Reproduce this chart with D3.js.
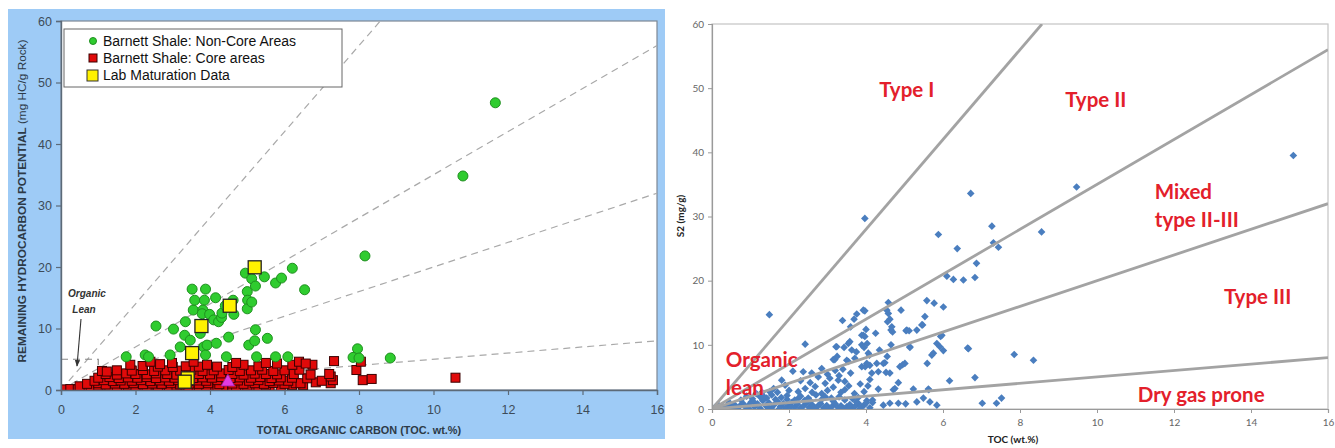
<!DOCTYPE html>
<html>
<head>
<meta charset="utf-8">
<script src="https://cdn.jsdelivr.net/npm/d3@7"></script>
<style>
  body { margin: 0; background: #fff; }
  svg { display: block; }
</style>
</head>
<body>
<div id="chart"></div>
<script>
// ---- data ----
var xTicks = [0, 2, 4, 6, 8, 10, 12, 14, 16];
var yTicks = [0, 10, 20, 30, 40, 50, 60];
// HI boundary lines (mg HC / g TOC / 100)
var kerogenSlopes = [7, 3.5, 2, 0.5];

var legendLabels = ["Barnett Shale: Non-Core Areas", "Barnett Shale: Core areas", "Lab Maturation Data"];

var nonCoreAreas = [
  [1.75,5.4],[2.26,5.7],[2.35,5.4],[2.55,10.4],[2.93,5.7],[3.02,9.9],[3.2,7.0],[3.32,8.9],[3.34,11.1],
  [3.47,8.1],[3.52,16.4],[3.55,13.0],[3.59,14.6],[3.85,14.6],[3.88,16.4],[3.81,13.0],[3.79,12.4],
  [3.74,9.2],[3.83,7.0],[3.88,5.7],[3.92,7.3],[3.99,12.3],[4.15,15.0],[4.17,7.6],[4.1,11.4],[4.23,11.1],
  [4.31,11.8],[4.32,12.5],[4.41,13.7],[4.44,5.4],[4.5,8.6],[4.62,14.6],[4.64,12.3],[4.95,19.0],[5.0,16.0],
  [5.01,14.6],[5.0,13.2],[5.04,7.3],[5.12,18.1],[5.12,14.3],[5.22,16.9],[5.25,5.4],[5.22,9.8],[5.2,8.0],
  [5.46,18.4],[5.54,8.4],[5.76,17.4],[5.92,18.2],[5.76,5.4],[6.09,5.4],[6.21,19.8],[6.54,16.3],
  [11.66,46.7],[10.79,34.8],[8.16,21.8],[7.96,6.7],[7.84,5.3],[8.0,5.2],[8.84,5.2]
];

var coreAreas = [
  [0.05,0.1],[0.25,0.15],[0.45,0.1],[0.65,0.2],[0.85,0.1],[1.1,0.15],[1.35,0.1],[1.6,0.2],[1.85,0.1],
  [2.1,0.15],[2.35,0.1],[2.6,0.2],[2.85,0.1],[3.1,0.15],[3.35,0.1],[3.6,0.2],[3.85,0.1],[4.1,0.15],
  [4.35,0.3],[4.6,0.2],[4.85,0.3],[5.1,0.4],[5.35,0.3],[5.6,0.35],
  [0.5,0.6],[0.8,0.5],[1.0,0.7],[1.3,0.6],[1.5,0.5],[1.8,0.7],[2.0,0.55],[2.3,0.65],[2.6,0.5],[2.9,0.6],
  [3.1,0.7],[3.4,0.55],[3.7,0.6],[3.9,0.5],[4.2,0.65],[4.7,0.6],[5.0,0.7],[5.3,0.6],[5.5,0.75],[5.9,0.6],
  [6.2,0.8],[6.5,0.8],
  [0.7,1.0],[1.0,1.1],[1.2,0.9],[1.45,1.05],[1.7,1.0],[1.95,1.1],[2.2,0.95],[2.45,1.05],[2.7,1.0],
  [2.95,1.1],[3.2,0.9],[3.45,1.05],[3.7,1.0],[3.95,1.1],[4.25,0.95],[4.6,1.05],[4.9,1.0],[5.2,1.1],
  [5.45,1.0],[5.7,1.15],[6.0,1.0],[6.3,1.1],[6.84,1.25],[7.24,1.1],
  [0.9,1.5],[1.15,1.6],[1.4,1.45],[1.6,1.55],[1.9,1.5],[2.15,1.6],[2.4,1.45],[2.65,1.55],[2.9,1.5],
  [3.15,1.6],[3.4,1.45],[3.65,1.55],[3.9,1.5],[4.2,1.6],[4.45,1.45],[4.75,1.55],[5.05,1.5],[5.3,1.6],
  [5.6,1.45],[5.85,1.55],[6.1,1.5],[6.43,1.1],[6.61,1.9],[7.0,1.5],[7.3,1.6],[8.1,1.6],[8.34,1.8],
  [1.0,2.0],[1.3,2.1],[1.55,1.95],[1.8,2.05],[2.05,2.0],[2.3,2.1],[2.55,1.95],[2.8,2.05],[3.05,2.0],
  [3.3,2.1],[3.55,1.95],[3.8,2.05],[4.05,2.0],[4.3,2.1],[4.55,1.95],[4.8,2.05],[5.1,2.0],[5.35,2.1],
  [5.65,1.95],[5.9,2.05],[6.2,2.0],[7.24,2.2],[10.59,2.0],
  [1.2,2.6],[1.5,2.5],[1.75,2.7],[2.0,2.6],[2.3,2.55],[2.55,2.7],[2.85,2.6],[3.1,2.5],[3.4,2.65],
  [3.7,2.6],[4.0,2.55],[4.3,2.7],[4.6,2.6],[4.9,2.5],[5.2,2.65],[5.5,2.6],[5.8,2.55],[6.25,2.6],
  [6.7,2.5],[7.2,2.6],
  [1.1,3.1],[1.5,3.2],[1.9,3.15],[2.2,3.25],[2.5,3.1],[2.8,3.2],[3.2,3.15],[3.5,3.3],[3.8,3.1],[4.1,3.2],
  [4.5,3.25],[4.8,3.1],[5.1,3.2],[5.4,3.3],[5.7,3.1],[6.0,3.2],[6.4,3.3],[7.93,3.25],
  [1.23,3.0],[1.86,4.1],[2.19,3.9],[2.6,3.8],[3.0,3.75],[3.35,3.85],[3.7,3.8],[4.19,3.8],[4.6,3.75],
  [4.9,4.1],[5.3,3.85],[5.8,4.3],[6.21,4.1],[6.75,4.1],
  [2.4,4.6],[2.66,4.2],[2.98,4.4],[3.56,4.6],[3.92,4.1],[4.7,4.4],[5.5,4.4],[6.39,4.6],[6.57,4.3],
  [7.33,4.7],[8.05,4.6]
];

var labMaturation = [[5.2,19.95],[4.53,13.7],[3.77,10.4],[3.52,6.0],[3.4,1.9],[3.32,1.35]];
var highlightSample = [[4.48,1.46]];

var regionLabels = ["Type I", "Type II", "Mixed", "type II-III", "Type III", "Dry gas prone", "Organic", "lean"];

var s2Samples = [
  [15.1,39.5],[9.47,34.6],[6.72,33.6],[3.97,29.7],[7.27,28.5],[5.88,27.2],[8.56,27.6],[7.31,25.9],[7.44,25.2],
  [6.37,25.0],[6.87,22.7],[6.27,20.2],[6.1,20.7],[6.53,20.1],[6.83,20.5],
  [5.58,16.9],[5.77,16.5],[6.01,15.9],[5.53,14.4],[5.47,13.1],[4.91,15.4],[4.58,16.6],[4.54,15.4],
  [4.58,14.9],[4.62,14.0],[4.56,13.6],[4.67,12.8],[4.69,12.0],[5.04,12.2],[5.12,12.2],[3.93,15.4],
  [3.76,14.8],[3.69,14.0],[3.39,13.8],[3.93,11.5],[5.97,11.5],[1.49,14.7],[2.42,10.1],[3.22,9.7],
  [3.97,15.3],[3.58,10.5],[3.89,11.5],[4.03,10.2],[4.09,8.4],[3.43,9.6],[3.15,7.7],[3.5,7.6],[3.71,7.9],
  [3.89,6.6],[3.98,6.6],[4.1,6.8],[4.32,5.8],[4.49,7.2],[4.62,5.6],[4.71,3.0],[4.88,6.6],[5.01,7.1],
  [4.84,4.1],[5.14,9.7],[5.32,12.3],[5.45,13.1],[5.94,11.3],[5.84,10.2],[6.01,9.1],[5.59,7.1],[5.75,8.7],
  [5.63,3.0],[5.32,1.1],[5.49,1.7],[5.66,1.1],[5.84,0.6],[4.62,0.9],[4.45,0.6],[4.84,0.9],[4.17,1.0],
  [6.17,4.4],[6.64,9.5],[6.83,4.9],[7.02,0.9],[7.39,0.9],[7.52,1.7],[6.66,9.4],[7.85,8.5],[8.35,7.6],
  [3.97,11.3],[3.89,10.0],[3.24,9.7],[3.54,10.2],[3.63,9.2],[3.19,7.7],[3.54,7.4],[4.06,8.7],[4.02,7.1],
  [4.15,5.6],[4.28,7.1],[4.45,7.1],[4.52,5.7],[4.65,10.0],[4.65,12.3],[5.06,12.3],[4.95,6.9],[5.14,9.6],
  [4.75,3.2],[4.32,3.1],[4.17,1.4],[5.03,0.8],[5.23,3.1],[5.71,8.4],[5.92,9.7],[5.62,3.1],
  [3.45,3.0],[3.28,4.5],[3.45,4.3],[3.3,5.2],
  [2.37,5.8],[2.59,5.6],[2.76,5.0],[1.81,4.5],[1.9,3.7],[1.55,2.2],[2.24,2.7],[2.42,3.2],[2.68,3.5],
  [2.94,4.0],[3.06,4.8],[2.85,2.4],[2.5,1.7],[2.94,1.9],[1.95,1.5],[1.42,1.7],[1.25,1.9],[1.1,1.0],
  [2.1,5.9],[2.3,4.4],[2.55,4.1],[2.0,2.9],[1.7,2.6],[2.7,2.2],[3.15,3.4],[3.35,2.6],[3.55,3.6],[3.7,2.4],
  [3.85,3.9],[3.6,5.6],[3.4,6.2],[3.2,6.0],[2.85,6.3],[3.0,5.4],[1.6,3.2],[1.3,2.6],[3.8,1.8],[3.95,2.7],
  [4.05,3.6],[4.1,4.6],[3.25,8.2],[3.75,8.9],[3.95,9.6],[4.35,9.2],[4.55,8.2],[3.6,12.8],[4.0,12.4],[4.25,11.8],
  [0.05,0.1],[0.12,0.3],[0.2,0.05],[0.28,0.4],[0.35,0.15],[0.42,0.55],[0.5,0.2],[0.58,0.7],[0.65,0.1],
  [0.72,0.45],[0.8,0.9],[0.88,0.25],[0.95,0.6],[1.02,1.1],[1.1,0.35],[1.18,0.8],[1.25,0.1],[1.32,1.3],
  [1.4,0.5],[1.48,0.95],[1.55,0.2],[1.62,0.7],[1.7,1.2],[1.78,0.4],[1.85,0.85],[1.92,0.15],[2.0,0.6],
  [2.08,1.05],[2.15,0.3],[2.22,0.75],[2.3,0.1],[2.38,0.5],[2.45,0.95],[2.52,0.25],[2.6,0.65],[2.68,0.15],
  [2.75,0.45],[2.82,0.85],[2.9,0.2],[2.98,0.55],[3.05,0.1],[3.12,0.4],[3.2,0.8],[3.28,0.2],[3.35,0.5],
  [3.42,0.1],[3.5,0.35],[3.58,0.7],[3.65,0.15],[3.72,0.45],[3.8,0.9],[3.88,0.3],[3.95,0.6],[4.02,1.3],
  [4.1,0.2],[0.15,0.7],[0.45,1.0],[0.75,1.4],[1.05,1.6],[1.35,1.9],[1.65,1.5],[1.95,2.1],[2.25,1.7],
  [2.55,1.3],[2.85,1.5],[3.15,1.2],[3.45,1.4],[3.75,1.1],[4.0,0.9],[1.15,2.4],[1.5,2.7],[0.9,2.0],
  [2.3,2.0],[2.6,2.6],[3.0,2.9],[3.3,1.9],[3.65,1.6],[1.75,0.05],[2.65,0.05],[3.55,0.05],[0.95,0.05],
  [1.45,0.3],[2.05,0.35],[2.95,0.3],[3.85,0.1],[2.4,1.3],[1.8,1.8],[2.15,1.4],[3.1,1.7]
];

// ---- layout ----
var W = 1335, H = 448;
var svg = d3.select("#chart").append("svg")
    .attr("width", W)
    .attr("height", H);

// ================= LEFT PANEL =================
var xL = d3.scaleLinear().domain([0, 16]).range([61, 657]);
var yL = d3.scaleLinear().domain([0, 60]).range([390, 21]);

svg.append("rect")
    .attr("x", 8).attr("y", 9).attr("width", 657).attr("height", 430)
    .attr("fill", "#9ecbf6");
svg.append("rect")
    .attr("x", xL(0)).attr("y", yL(60))
    .attr("width", xL(16) - xL(0)).attr("height", yL(0) - yL(60))
    .attr("fill", "#fff")
    .attr("stroke", "#7d8894").attr("stroke-width", 1.2);

svg.append("clipPath").attr("id", "clipL")
  .append("rect")
    .attr("x", xL(0)).attr("y", yL(60))
    .attr("width", xL(16) - xL(0)).attr("height", yL(0) - yL(60));

var left = svg.append("g").attr("clip-path", "url(#clipL)");

// dashed HI lines
left.selectAll(".hiL")
    .data(kerogenSlopes)
    .enter().append("line")
    .attr("x1", xL(0)).attr("y1", yL(0))
    .attr("x2", function(s){ return xL(Math.min(16, 60 / s)); })
    .attr("y2", function(s){ return yL(s * Math.min(16, 60 / s)); })
    .attr("stroke", "#a9a9a9").attr("stroke-width", 1.2)
    .attr("stroke-dasharray", "7,5");

// organic lean box
left.append("path")
    .attr("d", "M" + xL(0) + "," + yL(5) + "H" + xL(1) + "V" + yL(0))
    .attr("fill", "none")
    .attr("stroke", "#888").attr("stroke-width", 1.2)
    .attr("stroke-dasharray", "7,5");

left.selectAll(".core")
    .data(coreAreas)
    .enter().append("rect")
    .attr("x", function(d){ return xL(d[0]) - 4.5; })
    .attr("y", function(d){ return yL(d[1]) - 4.5; })
    .attr("width", 9).attr("height", 9)
    .attr("fill", "#e00a0a")
    .attr("stroke", "#3b0000").attr("stroke-width", 1);

left.selectAll(".noncore")
    .data(nonCoreAreas)
    .enter().append("circle")
    .attr("cx", function(d){ return xL(d[0]); })
    .attr("cy", function(d){ return yL(d[1]); })
    .attr("r", 5)
    .attr("fill", "#2fcc2f")
    .attr("stroke", "#1f8f1f").attr("stroke-width", 1);

left.selectAll(".lab")
    .data(labMaturation)
    .enter().append("rect")
    .attr("x", function(d){ return xL(d[0]) - 6.5; })
    .attr("y", function(d){ return yL(d[1]) - 6.5; })
    .attr("width", 13).attr("height", 13)
    .attr("fill", "#fff200")
    .attr("stroke", "#222").attr("stroke-width", 1.3);

left.selectAll(".hl")
    .data(highlightSample)
    .enter().append("path")
    .attr("d", d3.symbol(d3.symbolTriangle, 80))
    .attr("transform", function(d){ return "translate(" + xL(d[0]) + "," + (yL(d[1]) + 1) + ")"; })
    .attr("fill", "#e23be2").attr("stroke", "#a020a0").attr("stroke-width", 0.8);

// axes
var axL = svg.append("g")
    .attr("transform", "translate(" + xL(0) + ",0)")
    .call(d3.axisLeft(yL).tickValues(yTicks).tickSize(5).tickPadding(4));
var axB = svg.append("g")
    .attr("transform", "translate(0," + yL(0) + ")")
    .call(d3.axisBottom(xL).tickValues(xTicks).tickSize(5).tickPadding(10));
[axL, axB].forEach(function(a){
  a.select(".domain").attr("stroke", "#5c6a78").attr("stroke-width", 1.4);
  a.selectAll(".tick line").attr("stroke", "#5c6a78").attr("stroke-width", 1.2);
  a.selectAll(".tick text")
    .attr("fill", "#3d4b59")
    .style("font-family", "'Liberation Sans', Arial, sans-serif")
    .style("font-size", "12.5px");
});

// axis titles
var ylab = svg.append("text")
    .attr("transform", "translate(26," + 201 + ") rotate(-90)")
    .attr("text-anchor", "middle")
    .attr("fill", "#2d3a47")
    .style("font-family", "'Liberation Sans', Arial, sans-serif")
    .style("font-size", "11.8px");
ylab.append("tspan").style("font-weight", "bold").text("REMAINING HYDROCARBON POTENTIAL ");
ylab.append("tspan").text("(mg HC/g Rock)");

svg.append("text")
    .attr("x", 359).attr("y", 434)
    .attr("text-anchor", "middle")
    .attr("fill", "#2d3a47")
    .style("font-family", "'Liberation Sans', Arial, sans-serif")
    .style("font-size", "10.9px")
    .style("font-weight", "bold")
    .text("TOTAL ORGANIC CARBON (TOC. wt.%)");

// organic lean annotation
var olean = svg.append("g")
    .style("font-family", "'Liberation Sans', Arial, sans-serif")
    .style("font-size", "10px")
    .style("font-style", "italic")
    .style("font-weight", "bold")
    .attr("fill", "#333");
olean.append("text").attr("x", 87).attr("y", 297).attr("text-anchor", "middle").text("Organic");
olean.append("text").attr("x", 84).attr("y", 313).attr("text-anchor", "middle").text("Lean");
svg.append("defs").append("marker")
    .attr("id", "arr").attr("viewBox", "0 0 10 10")
    .attr("refX", 9).attr("refY", 5)
    .attr("markerWidth", 6).attr("markerHeight", 6)
    .attr("orient", "auto")
  .append("path").attr("d", "M0,1L10,5L0,9z").attr("fill", "#333");
svg.append("line")
    .attr("x1", 81).attr("y1", 319).attr("x2", 77).attr("y2", 366)
    .attr("stroke", "#333").attr("stroke-width", 1.1)
    .attr("marker-end", "url(#arr)");

// legend
var lg = svg.append("g");
lg.append("rect")
    .attr("x", 64).attr("y", 29).attr("width", 278).attr("height", 58)
    .attr("fill", "#fff").attr("stroke", "#666").attr("stroke-width", 1);
lg.selectAll("text")
    .data(legendLabels)
    .enter().append("text")
    .attr("x", 103)
    .attr("y", function(d, i){ return 46 + i * 17; })
    .attr("fill", "#111")
    .style("font-family", "'Liberation Sans', Arial, sans-serif")
    .style("font-size", "14px")
    .text(function(d){ return d; });
lg.append("circle").attr("cx", 93).attr("cy", 41).attr("r", 3.5)
    .attr("fill", "#2fcc2f").attr("stroke", "#1f8f1f");
lg.append("rect").attr("x", 89).attr("y", 54).attr("width", 8).attr("height", 8)
    .attr("fill", "#e00a0a").attr("stroke", "#3b0000");
lg.append("rect").attr("x", 87).attr("y", 70).attr("width", 11).attr("height", 11)
    .attr("fill", "#fff200").attr("stroke", "#333");

// ================= RIGHT PANEL =================
var xR = d3.scaleLinear().domain([0, 16]).range([712, 1328]);
var yR = d3.scaleLinear().domain([0, 60]).range([409, 24]);

svg.append("rect")
    .attr("x", xR(0)).attr("y", yR(60))
    .attr("width", xR(16) - xR(0)).attr("height", yR(0) - yR(60))
    .attr("fill", "#fff")
    .attr("stroke", "#c4c4c4").attr("stroke-width", 1.2);

svg.append("clipPath").attr("id", "clipR")
  .append("rect")
    .attr("x", xR(0)).attr("y", yR(60))
    .attr("width", xR(16) - xR(0)).attr("height", yR(0) - yR(60));
var right = svg.append("g").attr("clip-path", "url(#clipR)");

var axRL = svg.append("g")
    .attr("transform", "translate(" + xR(0) + ",0)")
    .call(d3.axisLeft(yR).tickValues(yTicks).tickSize(4).tickPadding(4));
var axRB = svg.append("g")
    .attr("transform", "translate(0," + yR(0) + ")")
    .call(d3.axisBottom(xR).tickValues(xTicks).tickSize(4).tickPadding(6));
[axRL, axRB].forEach(function(a){
  a.select(".domain").attr("stroke", "#9a9a9a").attr("stroke-width", 1.2);
  a.selectAll(".tick line").attr("stroke", "#9a9a9a");
  a.selectAll(".tick text")
    .attr("fill", "#666")
    .style("font-family", "Lato, 'Open Sans', sans-serif")
    .style("font-size", "10px");
});

right.selectAll(".pt")
    .data(s2Samples)
    .enter().append("rect")
    .attr("x", -2.7).attr("y", -2.7)
    .attr("width", 5.4).attr("height", 5.4)
    .attr("transform", function(d){ return "translate(" + xR(d[0]) + "," + yR(d[1]) + ") rotate(45)"; })
    .attr("fill", "#4a7ebf");

right.selectAll(".hiR")
    .data(kerogenSlopes)
    .enter().append("line")
    .attr("x1", xR(0)).attr("y1", yR(0))
    .attr("x2", function(s){ return xR(Math.min(16, 60 / s)); })
    .attr("y2", function(s){ return yR(s * Math.min(16, 60 / s)); })
    .attr("stroke", "#a3a3a3").attr("stroke-width", 2.8);

// region labels
var lblPos = [
  [5.06, 48.7, "middle"], [9.97, 47.0, "middle"], [11.5, 32.8, "start"], [11.5, 28.4, "start"],
  [13.3, 16.4, "start"], [11.06, 1.1, "start"], [0.36, 6.55, "start"], [0.36, 2.2, "start"]
];
svg.append("g").selectAll("text")
    .data(regionLabels)
    .enter().append("text")
    .attr("x", function(d, i){ return xR(lblPos[i][0]); })
    .attr("y", function(d, i){ return yR(lblPos[i][1]); })
    .attr("text-anchor", function(d, i){ return lblPos[i][2]; })
    .attr("fill", "#e3202b")
    .style("font-family", "Lato, 'Open Sans', sans-serif")
    .style("font-weight", "bold")
    .style("font-size", "20.5px")
    .text(function(d){ return d; });

svg.append("text")
    .attr("transform", "translate(684,216) rotate(-90)")
    .attr("text-anchor", "middle")
    .attr("fill", "#222")
    .style("font-family", "Lato, 'Open Sans', sans-serif")
    .style("font-weight", "bold")
    .style("font-size", "10px")
    .text("S2 (mg/g)");
svg.append("text")
    .attr("x", 1013).attr("y", 443)
    .attr("text-anchor", "middle")
    .attr("fill", "#222")
    .style("font-family", "Lato, 'Open Sans', sans-serif")
    .style("font-weight", "bold")
    .style("font-size", "10px")
    .text("TOC (wt.%)");
</script>
</body>
</html>
